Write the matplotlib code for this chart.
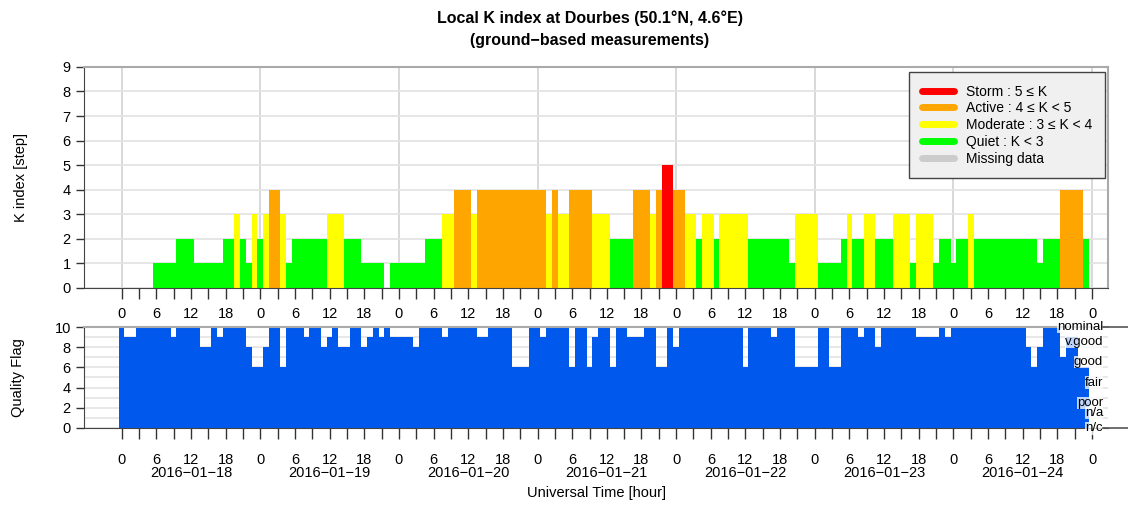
import numpy as np
import matplotlib
matplotlib.use("Agg")
import matplotlib.pyplot as plt
import matplotlib.transforms as mtransforms
from matplotlib.lines import Line2D

plt.rcParams['font.family'] = ['Liberation Sans', 'DejaVu Sans']

# hourly K index, 2016-01-18 00h .. 2016-01-24 23h
k_index = [
    0, 0, 0, 0, 0, 0, 1, 1, 1, 1, 2, 2, 2, 1, 1, 1, 1, 1, 2, 2, 3, 2, 1, 3,
    2, 3, 4, 4, 3, 1, 2, 2, 2, 2, 2, 2, 3, 3, 3, 2, 2, 2, 1, 1, 1, 1, 0, 1,
    1, 1, 1, 1, 1, 2, 2, 2, 3, 3, 4, 4, 4, 3, 4, 4, 4, 4, 4, 4, 4, 4, 4, 4,
    4, 4, 3, 4, 3, 3, 4, 4, 4, 4, 3, 3, 3, 2, 2, 2, 2, 4, 4, 4, 3, 4, 5, 5,
    4, 4, 3, 3, 2, 3, 3, 2, 3, 3, 3, 3, 3, 2, 2, 2, 2, 2, 2, 2, 1, 3, 3, 3,
    3, 1, 1, 1, 1, 2, 3, 2, 2, 3, 3, 2, 2, 2, 3, 3, 3, 1, 3, 3, 3, 1, 2, 2,
    1, 2, 2, 3, 2, 2, 2, 2, 2, 2, 2, 2, 2, 2, 2, 1, 2, 2, 2, 4, 4, 4, 4, 2,
]

# hourly quality flag
quality = [
    10, 9, 9, 10, 10, 10, 10, 10, 10, 9, 10, 10, 10, 10, 8, 8, 10, 9, 10, 10, 10, 10, 8, 6,
    6, 8, 10, 10, 6, 10, 10, 10, 9, 10, 10, 8, 9, 10, 8, 8, 10, 10, 8, 9, 10, 9, 10, 9,
    9, 9, 9, 8, 10, 10, 10, 10, 9, 10, 10, 10, 10, 10, 9, 9, 10, 10, 10, 10, 6, 6, 6, 10,
    10, 9, 10, 10, 10, 10, 6, 10, 10, 6, 9, 10, 10, 6, 10, 10, 9, 9, 9, 10, 10, 6, 6, 10,
    8, 10, 10, 10, 10, 10, 10, 10, 10, 10, 10, 10, 6, 10, 10, 10, 10, 9, 10, 10, 10, 6, 6, 6,
    6, 10, 10, 6, 6, 10, 10, 10, 9, 10, 10, 8, 10, 10, 10, 10, 10, 10, 9, 9, 9, 9, 10, 9,
    10, 10, 10, 10, 10, 10, 10, 10, 10, 10, 10, 10, 10, 8, 6, 8, 10, 10, 10, 7, 9, 9, 6, 6,
]

dates = ['2016−01−18', '2016−01−19', '2016−01−20', '2016−01−21',
         '2016−01−22', '2016−01−23', '2016−01−24']

quality_names = ['nominal', 'v.good', 'good', 'fair', 'poor', 'n/a', 'n/c']
quality_levels = [10, 8.5, 6.5, 4.5, 2.5, 1.45, -0.05]

hours = np.arange(len(k_index))
FS = 10.5


def k_color(k):
    if k >= 5:
        return '#ff0000'
    if k >= 4:
        return '#ffa500'
    if k >= 3:
        return '#ffff00'
    return '#00ff00'


fig = plt.figure(figsize=(11.28, 5.07), dpi=100)
ax1 = fig.add_axes([0.0745, 0.432, 0.908, 0.436])
ax2 = fig.add_axes([0.0745, 0.156, 0.908, 0.199])

xmin, xmax = -6.5, 170.8
ticks = np.arange(0, 169, 3)

# --- K index panel
ax1.bar(hours, k_index, width=1.0, color=[k_color(k) for k in k_index],
        edgecolor='none', zorder=2)
ax1.set_xlim(xmin, xmax)
ax1.set_ylim(0, 9)
ax1.set_yticks(range(10))
ax1.grid(axis='y', color='#e4e4e4', lw=1.3, zorder=0)
ax1.set_axisbelow(True)
for d in range(0, 169, 24):
    ax1.axvline(d, color='#d2d2d2', lw=1.2, zorder=0)
ax1.set_xticks(ticks)
ax1.set_xticklabels([str(t % 24) if t % 6 == 0 else '' for t in ticks])
ax1.tick_params(axis='x', length=8, width=1, color='#333333', pad=6, labelsize=FS)
ax1.tick_params(axis='y', length=6, width=1, color='#333333', labelsize=FS)
ax1.set_ylabel('K index [step]', fontsize=FS)
ax1.yaxis.set_label_coords(-0.055, 0.5)
for s in ['top', 'right']:
    ax1.spines[s].set_color('#aaaaaa')
    ax1.spines[s].set_linewidth(1.5)
for s in ['left', 'bottom']:
    ax1.spines[s].set_color('#444444')

handles = [
    Line2D([], [], color='#ff0000', lw=5, solid_capstyle='round'),
    Line2D([], [], color='#ffa500', lw=5, solid_capstyle='round'),
    Line2D([], [], color='#ffff00', lw=5, solid_capstyle='round'),
    Line2D([], [], color='#00ff00', lw=5, solid_capstyle='round'),
    Line2D([], [], color='#cccccc', lw=5, solid_capstyle='round'),
]
labels = ['Storm : 5 ≤ K', 'Active : 4 ≤ K < 5', 'Moderate : 3 ≤ K < 4',
          'Quiet : K < 3', 'Missing data']
leg = ax1.legend(handles, labels, loc='upper right', bbox_to_anchor=(0.997, 0.977),
                 borderaxespad=0, facecolor='#f0f0f0', edgecolor='#444444',
                 framealpha=1, fancybox=False, fontsize=10, handlelength=2.3,
                 labelspacing=0.2, borderpad=0.9, handletextpad=0.9)
leg.get_frame().set_linewidth(1.0)

# --- quality flag panel
ax2.bar(hours, quality, width=1.0, color='#0059ec', edgecolor='none', zorder=2)
ax2.set_xlim(xmin, xmax)
ax2.set_ylim(0, 10)
ax2.set_yticks(range(0, 11, 2))
ax2.set_yticks(range(11), minor=True)
ax2.tick_params(axis='y', which='minor', length=0)
ax2.grid(axis='y', which='both', color='#e4e4e4', lw=1.2, zorder=0)
ax2.set_axisbelow(True)
ax2.set_xticks(ticks)
ax2.set_xticklabels([str(t % 24) if t % 6 == 0 else '' for t in ticks])
ax2.tick_params(axis='x', length=8, width=1, color='#333333', pad=10, labelsize=FS)
ax2.tick_params(axis='y', which='major', length=6, width=1, color='#333333', labelsize=FS)
ax2.set_ylabel('Quality Flag', fontsize=FS)
ax2.yaxis.set_label_coords(-0.058, 0.5)
ax2.set_xlabel('Universal Time [hour]', fontsize=FS)
ax2.xaxis.set_label_coords(0.5, -0.58)
ax2.spines['top'].set_color('#aaaaaa')
ax2.spines['top'].set_linewidth(1.5)
ax2.spines['right'].set_visible(False)
for s in ['left', 'bottom']:
    ax2.spines[s].set_color('#444444')

# date under the 12h tick of each day
dtrans = mtransforms.blended_transform_factory(ax2.transData, ax2.transAxes)
for i, d in enumerate(dates):
    ax2.text(12 + 24 * i, -0.445, d, transform=dtrans, ha='center', va='center',
             fontsize=FS)

trans = mtransforms.blended_transform_factory(ax2.transAxes, ax2.transData)
for name, lev in zip(quality_names, quality_levels):
    ax2.text(0.995, lev, name, transform=trans, ha='right', va='center',
             fontsize=9.5, zorder=5,
             bbox=dict(facecolor='white', alpha=0.75, edgecolor='none', pad=0.1))
for lev in [10, 0]:
    ax2.plot([0.995, 1.02], [lev, lev], transform=trans, clip_on=False,
             color='#555555', lw=1.2, zorder=6)

fig.text(0.523, 0.964, 'Local K index at Dourbes (50.1°N, 4.6°E)',
         ha='center', va='center', fontsize=11.5, fontweight='bold')
fig.text(0.523, 0.921, '(ground−based measurements)',
         ha='center', va='center', fontsize=11.5, fontweight='bold')

fig.savefig('out.png', dpi=100)
